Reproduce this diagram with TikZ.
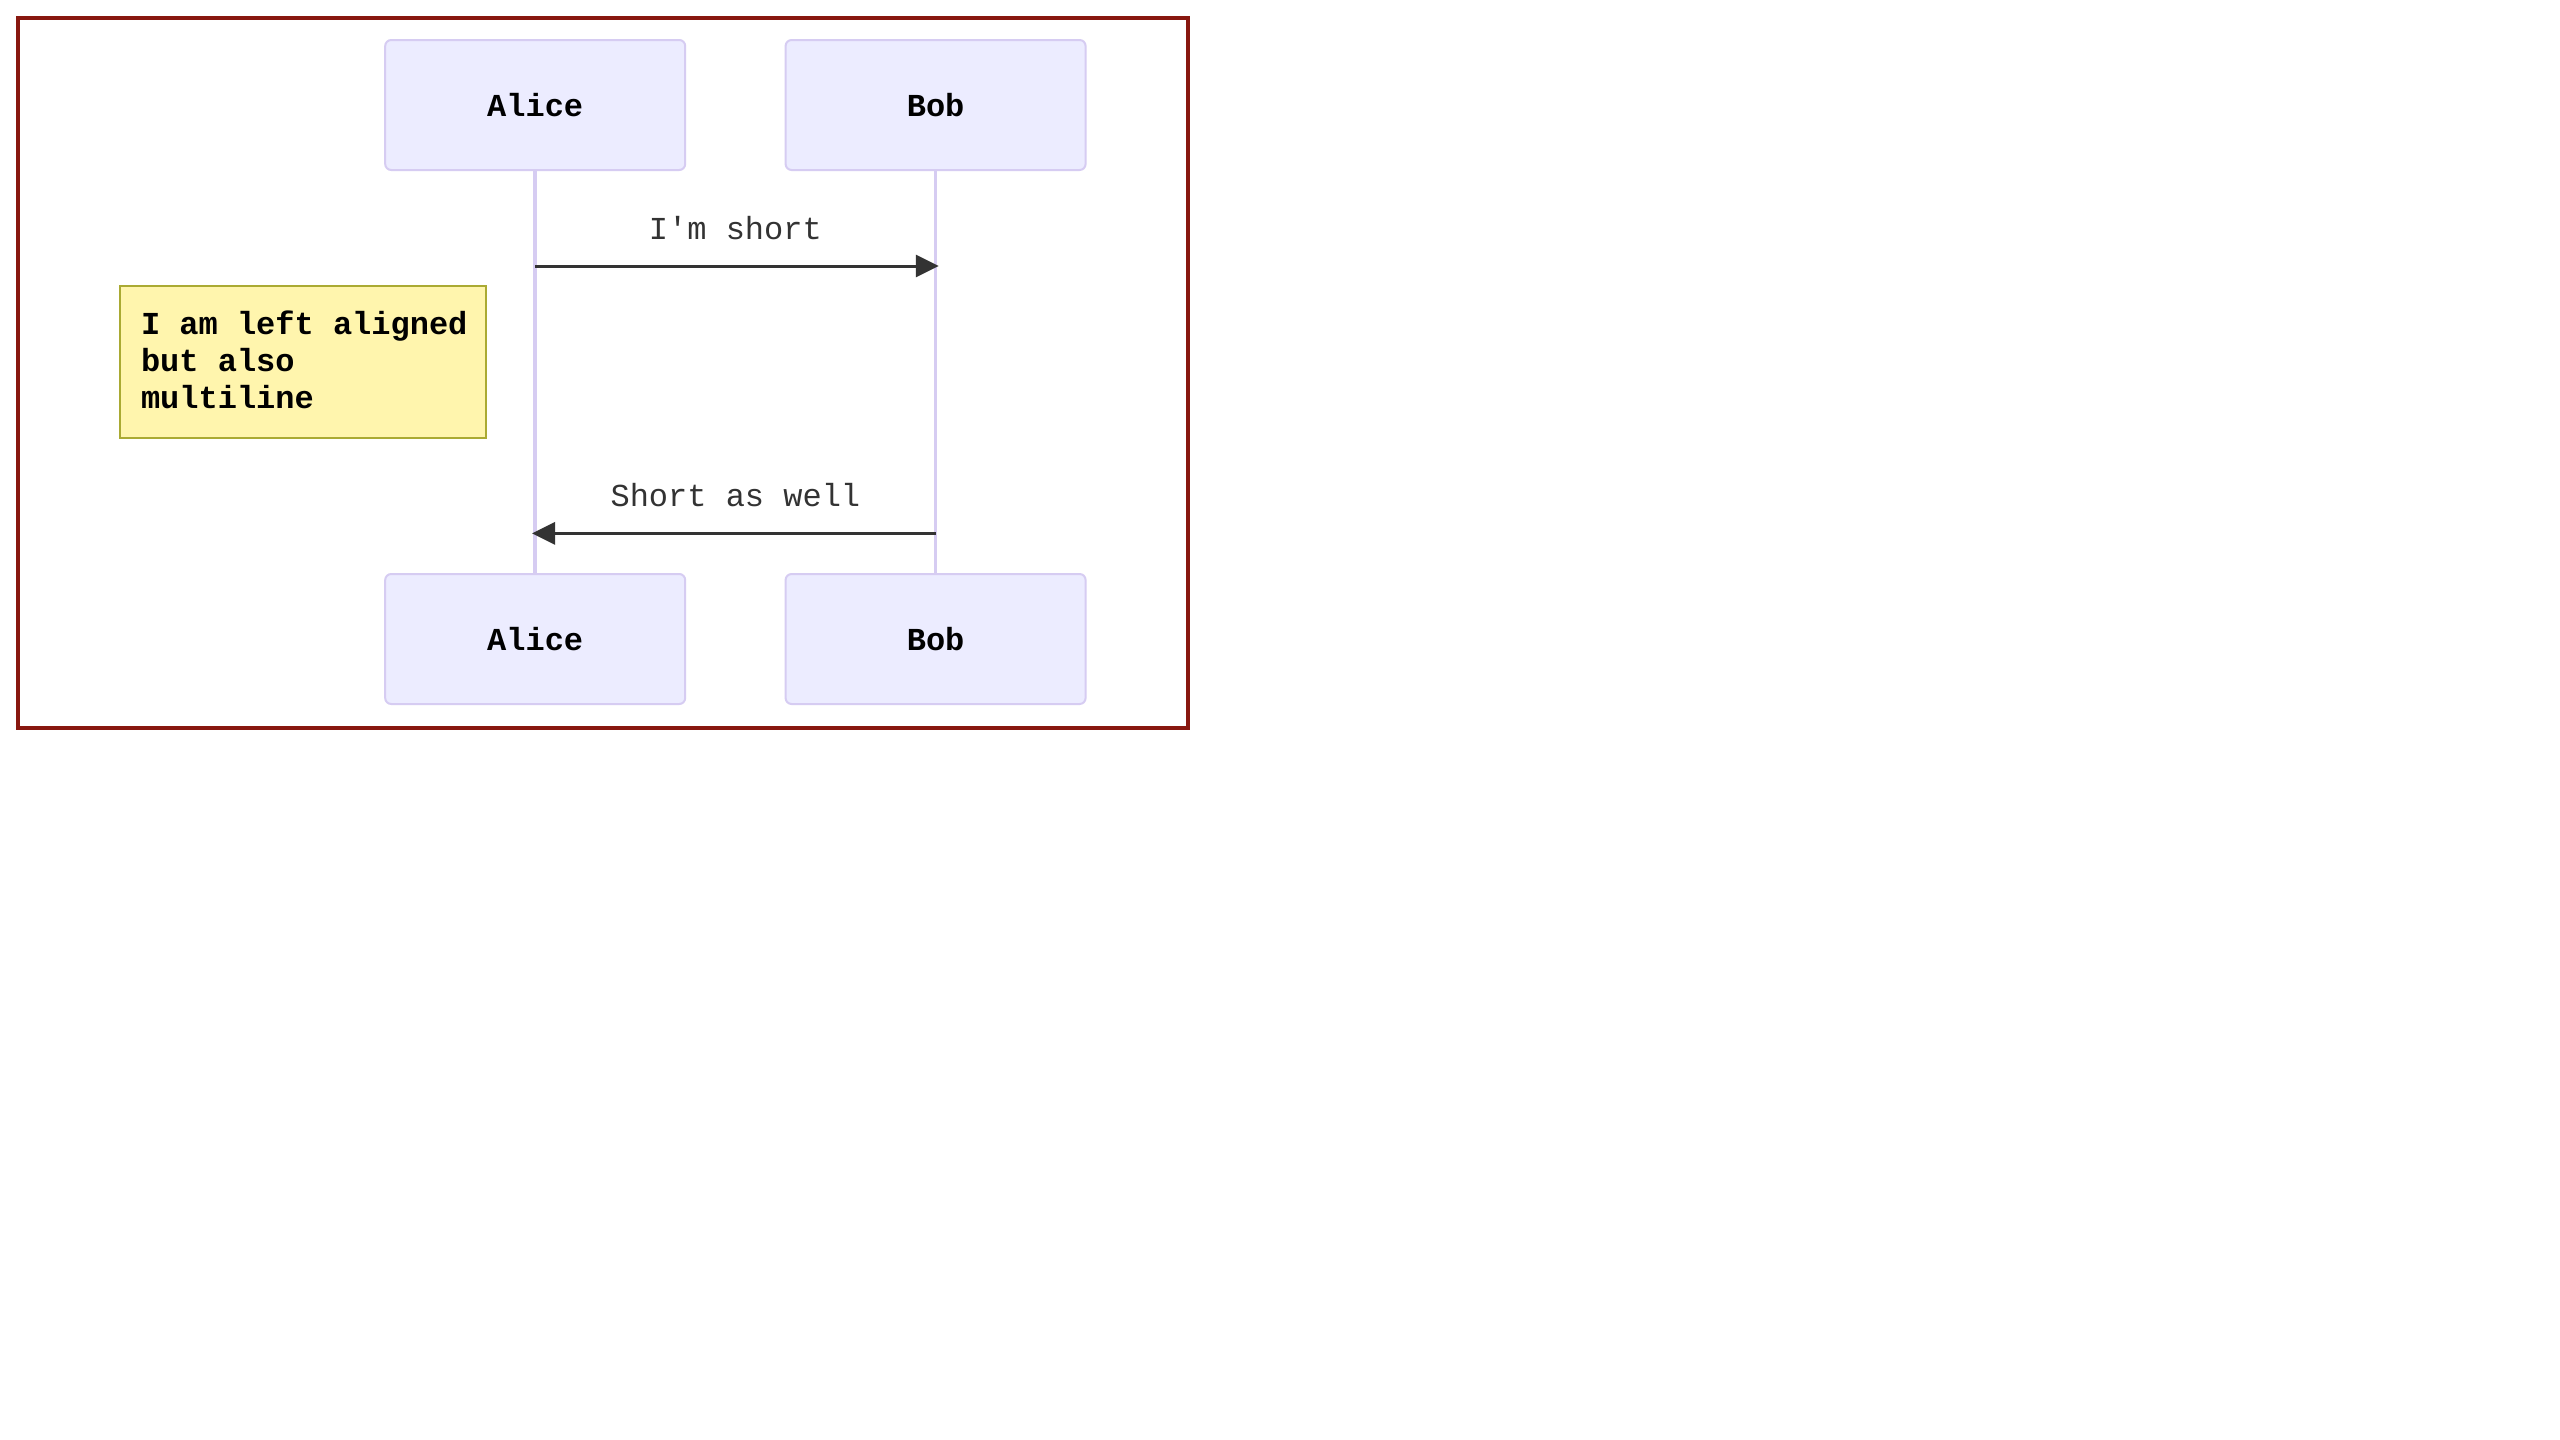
\documentclass[tikz,border=0pt]{standalone}
\usepackage{fontspec}
\setmonofont{Liberation Mono}
\usetikzlibrary{arrows.meta}

\definecolor{framered}{RGB}{136,24,16}
\definecolor{actorfill}{HTML}{ECECFF}
\definecolor{actorline}{RGB}{214,204,242}
\definecolor{notefill}{HTML}{FFF5AD}
\definecolor{noteline}{HTML}{AAAA33}
\definecolor{msgcol}{HTML}{333333}

\tikzset{
  actorbox/.style={draw=actorline, fill=actorfill, line width=1pt,
    rounded corners=3pt, minimum width=150pt, minimum height=65pt,
    inner sep=0pt, font=\ttfamily\bfseries\fontsize{16}{19}\selectfont, text=black},
  lifeline/.style={draw=actorline, line width=1.8pt},
  notebox/.style={draw=noteline, fill=notefill, line width=1pt,
    minimum width=183pt, minimum height=76pt, inner sep=0pt},
  notetext/.style={anchor=base west, inner sep=0pt, align=left,
    font=\ttfamily\bfseries\fontsize{16}{18.3}\selectfont, text=black},
  msg/.style={draw=msgcol, line width=1.5pt,
    -{Triangle[length=11.5pt,width=11pt]}, shorten >=-1.6pt},
  msglabel/.style={anchor=base, inner sep=0pt, text=msgcol,
    font=\ttfamily\fontsize{16}{19}\selectfont},
}

\begin{document}
\begin{tikzpicture}[x=1pt, y=-1pt]
  \useasboundingbox (0,0) rectangle (1280,720);
  \fill[white] (0,0) rectangle (1280,720);

  % outer frame
  \draw[framered, line width=2pt] (9,9) rectangle (594,364);

  % participants
  \node[actorbox] (alicetop) at (267.6,52.5) {Alice};
  \node[actorbox] (bobtop)   at (467.8,52.5) {Bob};
  \node[actorbox] (alicebot) at (267.6,319.5) {Alice};
  \node[actorbox] (bobbot)   at (467.8,319.5) {Bob};

  % lifelines
  \draw[lifeline] (alicetop.south) -- (alicebot.north);
  \draw[lifeline] (bobtop.south) -- (bobbot.north);

  % message anchor points on the lifelines
  \coordinate (m1a) at (alicetop.south |- 0,133);
  \coordinate (m1b) at (bobtop.south |- 0,133);
  \coordinate (m2a) at (alicetop.south |- 0,266.7);
  \coordinate (m2b) at (bobtop.south |- 0,266.7);

  % messages
  \draw[msg] (m1a) -- (m1b);
  \node[msglabel] (l1) at (367.7,119.7) {I'm short};
  \draw[msg] (m2b) -- (m2a);
  \node[msglabel] (l2) at (367.7,253.3) {Short as well};

  % note left of Alice (text placed by the baseline of its last line)
  \node[notebox] (note) at (151.5,181) {};
  \node[notetext] (notetxt) at (70.3,204) {I am left aligned\\but also\\multiline};
\end{tikzpicture}
\end{document}
